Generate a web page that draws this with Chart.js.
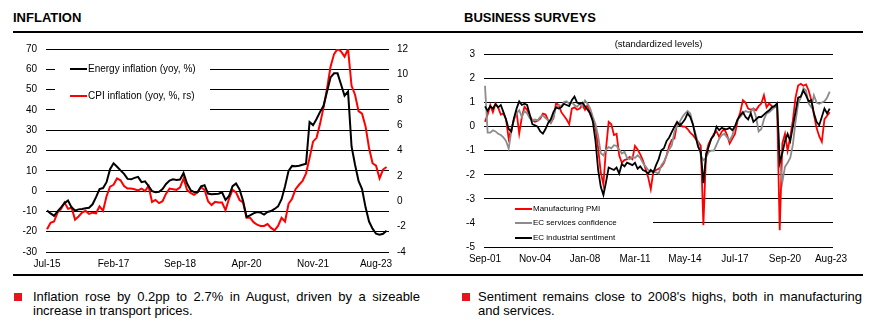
<!DOCTYPE html>
<html>
<head>
<meta charset="utf-8">
<script src="https://cdn.jsdelivr.net/npm/chart.js@4.4.0/dist/chart.umd.min.js"></script>
<style>
  html, body { margin: 0; padding: 0; background: #fff; }
  body { width: 883px; height: 328px; position: relative; overflow: hidden;
         font-family: "Liberation Sans", Arial, sans-serif; color: #000; }
  .title { position: absolute; top: 10px; font-weight: bold; font-size: 13px; line-height: 15px; }
  .rule { position: absolute; left: 13px; width: 850px; height: 2px; background: #000; }
  canvas { position: absolute; top: 34px; }
  .note { position: absolute; top: 290px; font-size: 13px; line-height: 14px; }
  .note .sq { position: absolute; left: 0; top: 3px; width: 8px; height: 8px; background: #e8141b; }
  .note .l1 { text-align: justify; text-align-last: justify; white-space: nowrap; }
</style>
</head>
<body>
<div class="title" style="left:13px">INFLATION</div>
<div class="title" style="left:464px">BUSINESS SURVEYS</div>
<div class="rule" style="top:31px"></div>
<div class="rule" style="top:274px"></div>

<canvas id="infl" width="440" height="240" style="left:0"></canvas>
<canvas id="surv" width="443" height="240" style="left:440px"></canvas>

<div class="note" style="left:14px;width:406px">
  <div class="sq"></div>
  <div style="margin-left:19px">
    <div class="l1">Inflation rose by 0.2pp to 2.7% in August, driven by a sizeable</div>
    <div>increase in transport prices.</div>
  </div>
</div>
<div class="note" style="left:462px;width:400px">
  <div class="sq"></div>
  <div style="margin-left:16px">
    <div class="l1">Sentiment remains close to 2008's highs, both in manufacturing</div>
    <div>and services.</div>
  </div>
</div>

<script>
// Monthly, Jul-15 .. Aug-23
const energyInfl = [
  -9.5, -11, -12.2, -10, -8, -5.9, -4.6, -8, -9.6, -9,
  -8.8, -8.5, -8.2, -6.5, -3, 1, 1.5, 4.4, 10.8, 13.7,
  12, 10.2, 8.5, 6, 5.8, 6.5, 7, 4.4, 4.8, 2.5,
  0, -0.6, -0.3, 1, 3.5, 5.2, 5.8, 5.5, 5.7, 8.9,
  3.7, 0.5, -0.5, -0.6, 2.4, 2.9, -1.2, -1.6, -1.4, -1.3,
  -0.6, -4.4, -2.4, 2.4, 3.7, 0.8, -4.8, -12.7, -12, -11,
  -10.3, -10.6, -11.6, -10.3, -9.8, -8.8, -7.5, -4, 2.4, 10,
  12.4, 12.2, 12.5, 13, 13.5, 34, 32.5, 35.5, 39, 42,
  49, 56, 58, 58, 52.5, 47, 49, 22, 13, 5,
  1, -8, -15, -18.5, -21, -21.5, -21, -19.5
];
const cpiInfl = [
  -2.2, -1.7, -1.6, -0.9, -0.6, -0.1, -0.6, -0.5, -1.45, -1.2,
  -0.9, -0.75, -1.0, -0.9, -0.95, -0.4, -0.75, 0.4, 1.15, 1.3,
  1.8, 1.65, 1.2, 1.0, 1.0, 0.95, 0.85, 1.0, 0.8, 1.2,
  -0.05, 0.1, -0.15, 0.0, 0.6, 1.0, 0.95, 0.9, 1.1, 1.8,
  0.9, 0.65, 0.5, 0.7, 1.1, 0.9, 0.0, -0.3, -0.05, -0.1,
  -0.1, -0.7, 0.2, 0.9, 0.7, 0.1, -0.1, -1.3, -1.3, -1.65,
  -1.85, -1.95, -1.95, -1.8, -2.1, -2.3, -1.95, -1.3, -1.6, -0.2,
  0.2, 0.95, 1.3, 1.6, 2.2, 3.4, 4.7, 5.0, 6.1, 7.4,
  8.9, 10.6, 11.6, 12.0, 11.8, 11.4, 12.0, 9.1, 8.4, 7.1,
  6.9, 5.9, 4.2, 3.0, 2.8, 1.8, 2.5, 2.7
];
const inflTickMonths = [0, 19, 38, 57, 76, 97];
const inflTickLabels = ['Jul-15', 'Feb-17', 'Sep-18', 'Apr-20', 'Nov-21', 'Aug-23'];

// Every second month, Sep-01 .. Jul-23
const surveyStep = 2;
const pmi = [
  0.2, 0.5, 0.89, 0.6, 0.96, 0.8, 0.5, 0.55, 0.3, -0.5,
  -0.1, 0.3, 0.6, -0.29, 0.4, 0.82, 0.7, 0.45, 0.26, 0.2,
  0.25, 0.33, 0.54, 0.5, 0.26, 0.15, 0.35, 0.96, 0.9, 0.6,
  0.45, 0.3, 0.1, 0.75, 0.8, 0.7, 0.75, 0.9, 0.7, 0.9,
  0.5, 0.3, 0.0, -0.9, -1.9, -2.4, -0.9, 0.2, 0.1, -0.35,
  -0.3, -1.19, -1.5, -1.39, -1.35, -1.26, -1.35, -0.8, -0.95, -1.15,
  -1.4, -1.75, -2.1, -2.6, -1.85, -1.8, -1.75, -1.67, -1.5, -1.2,
  -0.8, -0.55, -0.49, 0.13, 0.15, 0.0, 0.0, -0.1, -0.25, -0.35,
  -0.5, -0.63, -0.8, -4.1, -1.12, -0.7, -0.5, -0.3, -0.2, -0.43,
  -0.2, -0.1, -0.35, -0.7, -0.5, -0.3, 0.26, 0.6, 1.1, 1.0,
  0.75, 0.7, 0.75, 0.68, 0.85, 0.96, 1.3, 0.8, 0.96, 0.85,
  0.82, 0.82, -4.3, -0.7, -0.3, -1.0, -0.43, 0.26, 1.2, 1.71,
  1.78, 1.7, 1.75, 1.5, 1.1, 0.5, -0.05, -0.4, -0.63, 0.3,
  0.45, 0.6
];
const servicesConf = [
  1.7, -0.25, -0.25, -0.15, -0.2, -0.3, -0.35, -0.45, -0.6, -0.91,
  -0.2, 0.3, 0.55, 0.68, 0.4, 0.65, 0.55, 0.35, 0.26, 0.3,
  0.26, 0.4, 0.47, 0.35, 0.26, 0.15, 0.4, 0.8, 0.9, 0.85,
  1.02, 1.05, 0.95, 1.0, 0.9, 0.82, 0.95, 0.85, 1.09, 0.95,
  0.75, 0.4, 0.1, -0.4, -1.1, -1.2, -0.95, -0.85, -0.9, -0.77,
  -0.8, -0.95, -1.12, -1.05, -1.3, -1.35, -1.25, -1.3, -1.19, -1.3,
  -1.5, -1.65, -1.8, -1.88, -1.85, -1.9, -1.95, -1.6, -1.46, -1.2,
  -0.95, -0.77, -0.2, 0.05, 0.2, 0.4, 0.54, 0.65, 0.55, 0.1,
  -0.3, -0.7, -1.2, -1.39, -1.3, -1.05, -1.0, -1.0, -0.75, -0.5,
  -0.35, -0.3, -0.45, -0.57, -0.36, 0.0, 0.3, 0.4, 0.55, 0.65,
  0.6, 0.62, 0.75, 0.4, -0.2, -0.1, 0.3, 0.54, 0.6, 0.7,
  0.8, 0.96, -1.39, -2.3, -1.67, -1.5, -1.3, -0.75, 0.2, 0.95,
  1.2, 1.6, 1.5, 0.96, 0.8, 1.3, 1.0, 0.95, 1.0, 1.05,
  1.2, 1.45
];
const industrySent = [
  0.84, 0.65, 0.85, 0.75, 0.93, 0.8, 0.9, 0.6, 0.3, -0.1,
  -0.2, 0.35, 0.75, 1.05, 0.9, 0.95, 0.9, 0.5, 0.1, 0.05,
  0.0, -0.2, -0.29, -0.1, 0.15, 0.3, 0.6, 0.8, 0.75, 0.8,
  0.95, 0.9, 0.85, 1.1, 1.25, 1.0, 0.95, 1.0, 0.85, 0.7,
  0.55, 0.2, -0.6, -1.8, -2.5, -2.84, -2.3, -1.7, -1.75, -1.8,
  -1.7, -1.95, -1.55, -1.65, -1.5, -1.55, -1.6, -1.5, -1.75, -1.65,
  -1.8, -1.85, -1.95, -1.8, -1.9, -1.6, -1.35, -0.98, -0.9, -0.6,
  -0.45, -0.22, 0.0, 0.2, 0.05, 0.15, 0.3, 0.55, 0.4, 0.1,
  -0.4, -0.84, -1.05, -2.35, -1.2, -0.84, -0.5, -0.36, 0.0, -0.15,
  -0.05, -0.1, -0.1, -0.05, -0.15, 0.0, 0.3, 0.47, 0.6, 0.4,
  0.3, 0.55, 0.2, 0.3, 0.4, 0.4, 0.5, 0.6, 0.68, 0.8,
  0.85, 0.96, -1.5, -1.1, -0.6, -0.3, -0.6, 0.0, 0.6, 1.2,
  1.25, 1.5, 1.3, 1.05, 1.1, 0.55, 0.2, 0.06, 0.4, 0.75,
  0.55, 0.75
];
const survTickMonths = [0, 38, 76, 114, 152, 190, 228, 263];
const survTickLabels = ['Sep-01', 'Nov-04', 'Jan-08', 'Mar-11', 'May-14', 'Jul-17', 'Sep-20', 'Aug-23'];

const FONT = '"Liberation Sans", Arial, sans-serif';
Chart.defaults.font.family = FONT;
Chart.defaults.color = '#000';

const toXY = (arr, step = 1) => arr.map((v, i) => ({ x: i * step, y: v }));

// legend drawn inside the plot, on a white patch that hides the grid behind it
const boxLegend = {
  id: 'boxLegend',
  beforeDatasetsDraw(chart, args, o) {
    const { ctx } = chart;
    ctx.save();
    ctx.fillStyle = '#fff';
    ctx.fillRect(o.x, o.y, o.w, o.h);
    ctx.font = o.font + 'px ' + FONT;
    ctx.textBaseline = 'middle';
    chart.data.datasets.forEach((ds, k) => {
      const y = o.rows[k];
      ctx.strokeStyle = ds.borderColor;
      ctx.lineWidth = 2;
      ctx.beginPath();
      ctx.moveTo(o.lineX, y);
      ctx.lineTo(o.lineX + o.lineLen, y);
      ctx.stroke();
      ctx.fillStyle = '#000';
      ctx.fillText(ds.label, o.lineX + o.lineLen + 1, y);
    });
    ctx.restore();
  }
};

const tickFont = { size: 10 };

// ── Inflation: energy (left axis) vs CPI (right axis) ──
new Chart(document.getElementById('infl'), {
  type: 'line',
  data: {
    datasets: [
      { label: 'Energy inflation (yoy, %)', data: toXY(energyInfl), yAxisID: 'y',
        borderColor: '#000', borderWidth: 2, pointRadius: 0, tension: 0 },
      { label: 'CPI inflation (yoy, %, rs)', data: toXY(cpiInfl), yAxisID: 'y2',
        borderColor: '#ff0000', borderWidth: 2, pointRadius: 0, tension: 0 }
    ]
  },
  options: {
    responsive: false, animation: false, devicePixelRatio: 1,
    layout: { padding: { top: 8, left: 0, right: 0, bottom: 0 } },
    plugins: {
      legend: { display: false }, tooltip: { enabled: false },
      boxLegend: { x: 55, y: 16, w: 155, h: 65, lineX: 70, lineLen: 17, rows: [35, 62], font: 10 }
    },
    scales: {
      x: {
        type: 'linear', min: -0.3, max: 97.7,
        grid: { display: false, drawTicks: false }, border: { display: false },
        // the end label is pulled in a little so it stays clear of the right axis
        afterBuildTicks: s => { s.ticks = inflTickMonths.map((m, k) => ({ value: k === inflTickMonths.length - 1 ? m - 3 : m })); },
        ticks: { autoSkip: false, maxRotation: 0, padding: 6, font: tickFont,
                 callback: (v, i) => inflTickLabels[i] },
        afterFit: s => { s.height = 22; }
      },
      y: {
        position: 'left', min: -30, max: 70,
        ticks: { stepSize: 10, padding: 9, font: tickFont },
        grid: { color: '#000', lineWidth: 1, drawTicks: false }, border: { display: false },
        afterFit: s => { s.width = 46; }
      },
      y2: {
        position: 'right', min: -4, max: 12,
        ticks: { stepSize: 2, padding: 8, font: tickFont },
        grid: { display: false, drawTicks: false }, border: { display: false },
        afterFit: s => { s.width = 51; }
      }
    }
  },
  plugins: [boxLegend]
});

// ── Business surveys, standardized ──
new Chart(document.getElementById('surv'), {
  type: 'line',
  data: {
    datasets: [
      { label: 'Manufacturing PMI', data: toXY(pmi, surveyStep), order: 3,
        borderColor: '#ff0000', borderWidth: 1.8, pointRadius: 0, tension: 0 },
      { label: 'EC services confidence', data: toXY(servicesConf, surveyStep), order: 2,
        borderColor: '#8c8c8c', borderWidth: 1.8, pointRadius: 0, tension: 0 },
      { label: 'EC industrial sentiment', data: toXY(industrySent, surveyStep), order: 1,
        borderColor: '#000', borderWidth: 1.8, pointRadius: 0, tension: 0 }
    ]
  },
  options: {
    responsive: false, animation: false, devicePixelRatio: 1,
    layout: { padding: { top: 0, left: 0, right: 50, bottom: 0 } },
    plugins: {
      legend: { display: false }, tooltip: { enabled: false },
      title: { display: true, text: '(standardized levels)', fullSize: false,
               font: { size: 9.5, weight: 'normal' }, padding: { top: 5, bottom: 4 } },
      boxLegend: { x: 44, y: 168, w: 169, h: 43, lineX: 75, lineLen: 17, rows: [175, 189, 204], font: 8 }
    },
    scales: {
      x: {
        type: 'linear', min: -0.76, max: 264.5,
        grid: { display: false, drawTicks: false }, border: { display: false },
        afterBuildTicks: s => { s.ticks = survTickMonths.map(m => ({ value: m })); },
        ticks: { autoSkip: false, maxRotation: 0, padding: 6, font: tickFont,
                 callback: (v, i) => survTickLabels[i] },
        afterFit: s => { s.height = 27; }
      },
      y: {
        position: 'left', min: -5, max: 3,
        ticks: { stepSize: 1, padding: 9, font: tickFont },
        grid: { color: '#000', lineWidth: 1, drawTicks: false }, border: { display: false },
        afterFit: s => { s.width = 44; }
      }
    }
  },
  plugins: [boxLegend]
});
</script>
</body>
</html>
